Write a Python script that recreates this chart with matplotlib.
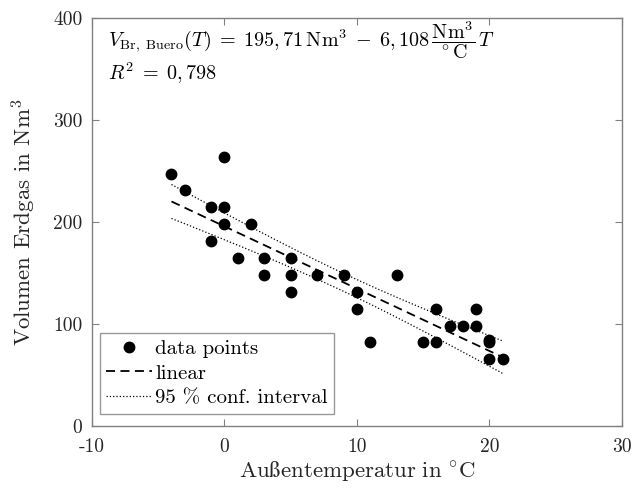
import numpy as np
import matplotlib
matplotlib.use("Agg")
import matplotlib.pyplot as plt

plt.rcParams['font.family'] = ['cmr10', 'DejaVu Serif']
plt.rcParams['mathtext.fontset'] = 'cm'
plt.rcParams['axes.unicode_minus'] = False

# data
temp = [-4, -3, -1, -1, 0, 0, 0, 1, 2, 3, 3, 5, 5, 5, 7, 9, 10, 10, 11, 13,
        15, 16, 16, 17, 18, 19, 19, 20, 20, 20, 21]
gas = [247, 231, 215, 181, 264, 215, 198, 165, 198, 165, 148, 165, 148, 131, 148, 148, 131, 115, 82, 148,
       82, 115, 82, 98, 98, 115, 98, 82, 84, 66, 66]
intercept = 195.71
slope = -6.108

x = np.array(temp, dtype=float)
y = np.array(gas, dtype=float)
xs = np.linspace(x.min(), x.max(), 100)
fit = intercept + slope * xs

# 95 % confidence band of the mean
n = len(x)
res = y - (intercept + slope * x)
s = np.sqrt(np.sum(res**2) / (n - 2))
sxx = np.sum((x - x.mean())**2)
hw = 2.045 * s * np.sqrt(1.0 / n + (xs - x.mean())**2 / sxx)

fig = plt.figure(figsize=(6.33, 4.9), dpi=100)
ax = fig.add_axes([0.1453, 0.1306, 0.8373, 0.8327])

ax.plot(x, y, 'o', color='k', markersize=7.5, label='data points')
ax.plot(xs, fit, '--', color='k', lw=1.3, dashes=(5, 3), label='linear')
ax.plot(xs, fit + hw, ':', color='k', lw=0.9, label='95 % conf. interval')
ax.plot(xs, fit - hw, ':', color='k', lw=0.9)

ax.set_xlim(-10, 30)
ax.set_ylim(0, 400)
ax.set_xticks([-10, 0, 10, 20, 30])
ax.set_yticks([0, 100, 200, 300, 400])
ax.tick_params(direction='in', top=True, right=True, labelsize=14, labelcolor='#262626',
               color='#808080', length=5)
ax.tick_params(axis='x', pad=9)
ax.tick_params(axis='y', pad=7)
for sp in ax.spines.values():
    sp.set_color('#808080')
    sp.set_linewidth(1.0)

ax.set_xlabel(r'$\mathrm{Außentemperatur\ in\ {}^{\circ}C}$', fontsize=16.5, color='#262626', labelpad=2)
ax.set_ylabel(r'Volumen Erdgas in Nm$^3$', fontsize=16.5, color='#262626', labelpad=11)

ax.text(-8.8, 378, r'$V_{\mathrm{Br,\ Buero}}(T) \;=\; 195,71\,\mathrm{Nm}^3 \;-\; 6,108\,\dfrac{\mathrm{Nm}^3}{^\circ\mathrm{C}}\,T$',
        fontsize=14.5, va='center')
ax.text(-8.8, 346, r'$R^2 \;=\; 0,798$', fontsize=14.5, va='center')

leg = ax.legend(loc='lower left', bbox_to_anchor=(0.015, 0.03), fontsize=15, frameon=True,
                fancybox=False, edgecolor='#808080', handlelength=2.2, handletextpad=0.15,
                borderpad=0.3, labelspacing=0.3, borderaxespad=0)
leg.get_frame().set_linewidth(1.0)

fig.savefig('out.png', dpi=100)
